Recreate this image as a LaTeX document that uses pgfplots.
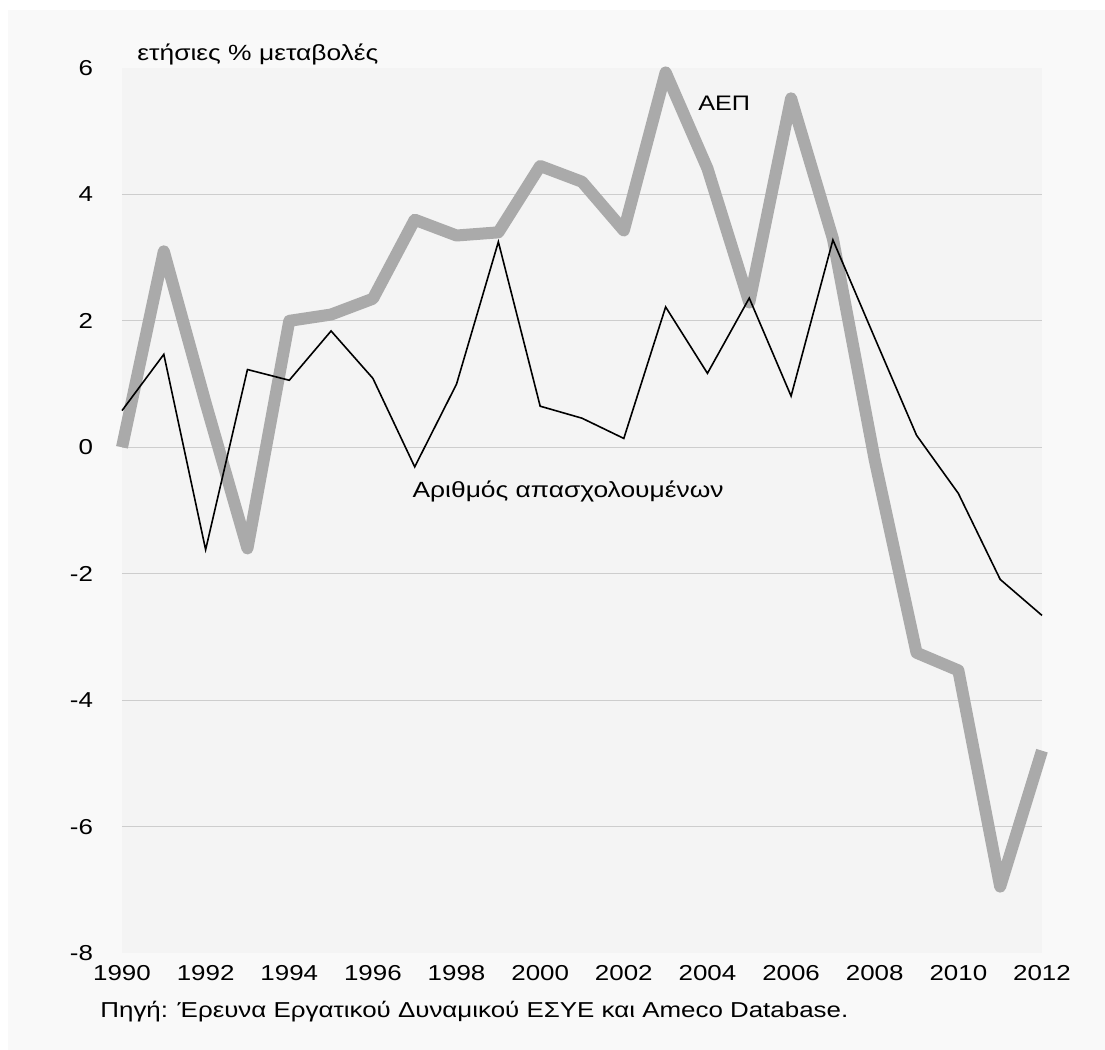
\documentclass[border=0pt]{standalone}
\usepackage{pgfplots}
\pgfplotsset{compat=1.18}
\usepackage{fontspec}
\setmainfont{Liberation Sans}[FakeStretch=1.2]
\definecolor{figbg}{HTML}{F9F9F9}
\definecolor{plotbg}{HTML}{F4F4F4}
\definecolor{gridc}{HTML}{CDCDCD}
\definecolor{gdp}{HTML}{AAAAAA}
\begin{document}
\begin{tikzpicture}[x=1pt,y=1pt]
\path[use as bounding box, fill=white] (-61,-48.5) rectangle (491.5,476.5);
\fill[figbg] (-57,-48.5) rectangle (491.5,471.5);
\begin{axis}[
  at={(0,0)}, anchor=south west,
  scale only axis, width=460pt, height=442.5pt,
  xmin=1990, xmax=2012, ymin=-8, ymax=6,
  axis line style={draw=none},
  axis background/.style={fill=plotbg},
  xtick={1990,1992,...,2012},
  ytick={-6,-4,...,4},
  extra y ticks={-8,6},
  extra y tick style={grid=none},
  ymajorgrids, grid style={gridc, line width=0.6pt},
  major tick length=0pt,
  tick label style={font=\fontsize{10.8}{13}\selectfont},
  /pgf/number format/assume math mode=true,
  /pgf/number format/1000 sep={},
  xticklabel style={yshift=-2.5pt},
  yticklabel style={xshift=-11pt},
  clip=false,
]
\addplot[gdp, line width=6pt, line join=round] coordinates {
(1990,0.0) (1991,3.1) (1992,0.7) (1993,-1.6) (1994,2.0) (1995,2.1) (1996,2.35) (1997,3.6) (1998,3.35) (1999,3.4) (2000,4.45) (2001,4.2) (2002,3.43) (2003,5.93) (2004,4.41) (2005,2.29) (2006,5.52) (2007,3.3) (2008,-0.2) (2009,-3.25) (2010,-3.53) (2011,-6.95) (2012,-4.8)
};
\addplot[black, line width=0.8pt] coordinates {
(1990,0.58) (1991,1.47) (1992,-1.62) (1993,1.23) (1994,1.06) (1995,1.84) (1996,1.09) (1997,-0.31) (1998,1.0) (1999,3.25) (2000,0.65) (2001,0.46) (2002,0.14) (2003,2.22) (2004,1.17) (2005,2.36) (2006,0.81) (2007,3.28) (2008,1.73) (2009,0.19) (2010,-0.73) (2011,-2.09) (2012,-2.66)
};
\node[font=\fontsize{10.5}{12}\selectfont] at (axis cs:2004.4,5.44) {ΑΕΠ};
\node[anchor=west, inner sep=0pt, font=\fontsize{11}{13}\selectfont] at (axis cs:1996.94,-0.70) {Αριθμός απασχολουμένων};
\end{axis}
\node[anchor=west, inner sep=0pt, font=\fontsize{11}{13}\selectfont] at (7.5,449) {ετήσιες \% μεταβολές};
\node[anchor=west, inner sep=0pt, font=\fontsize{10.8}{13}\selectfont] at (-11,-29.5) {Πηγή: Έρευνα Εργατικού Δυναμικού ΕΣΥΕ και Ameco Database.};
\end{tikzpicture}
\end{document}
